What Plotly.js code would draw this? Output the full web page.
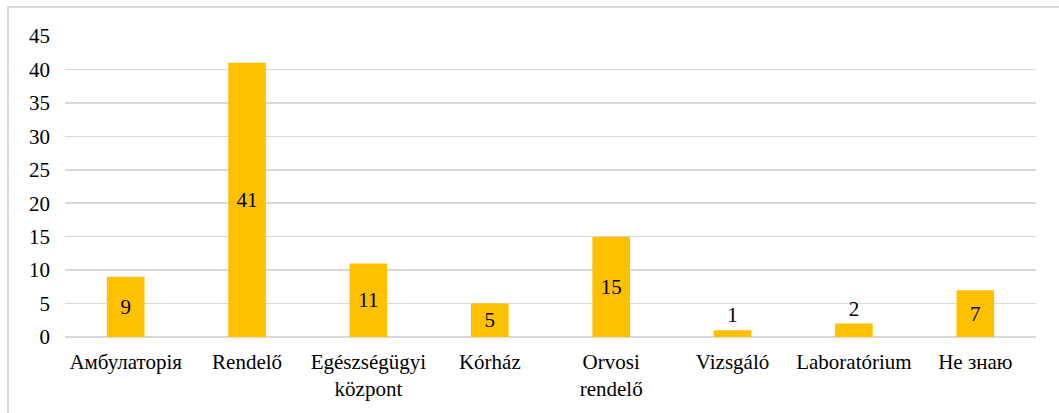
<!DOCTYPE html>
<html>
<head>
<meta charset="utf-8">
<script src="https://cdn.plot.ly/plotly-3.0.1.min.js"></script>
<style>
  html, body { margin: 0; padding: 0; background: #fff; overflow: hidden; }
  #chart { position: absolute; left: 0; top: 0; width: 1059px; height: 413px; }
  #frame { position: absolute; left: 7px; top: 6px; width: 1100px; height: 450px;
           border-left: 2px solid #d9d9d9; border-top: 2px solid #d9d9d9; pointer-events: none; }
</style>
</head>
<body>
<div id="chart"></div>
<div id="frame"></div>
<script>
const categories = ["Амбулаторія", "Rendelő", "Egészségügyi<br>központ", "Kórház", "Orvosi<br>rendelő", "Vizsgáló", "Laboratórium", "Не знаю"];
const values = [9, 41, 11, 5, 15, 1, 2, 7];
const yTicks = [0, 5, 10, 15, 20, 25, 30, 35, 40, 45];

const font = "'Liberation Serif', 'Times New Roman', 'DejaVu Serif', serif";

Plotly.newPlot("chart", [{
  type: "bar",
  x: categories,
  y: values,
  text: values.map(String),
  textposition: "auto",
  insidetextanchor: "middle",
  textangle: 0,
  constraintext: "none",
  cliponaxis: false,
  textfont: { family: font, size: 21, color: "#000" },
  insidetextfont: { family: font, size: 21, color: "#000" },
  outsidetextfont: { family: font, size: 21, color: "#000" },
  marker: { color: "#FFC000" },
  hoverinfo: "none"
}], {
  width: 1059,
  height: 413,
  margin: { l: 65, r: 23, t: 36, b: 76, pad: 0 },
  paper_bgcolor: "#fff",
  plot_bgcolor: "#fff",
  bargap: 0.69,
  showlegend: false,
  font: { family: font, size: 21, color: "#000" },
  xaxis: {
    type: "category",
    showgrid: false,
    showline: false,
    zeroline: false,
    ticks: "",
    ticklabelstandoff: 10,
    tickfont: { family: font, size: 21, color: "#000" },
    automargin: false
  },
  yaxis: {
    range: [0, 45],
    tickvals: yTicks,
    ticktext: yTicks.map(String),
    showgrid: true,
    gridcolor: "#d9d9d9",
    gridwidth: 1.5,
    zeroline: true,
    zerolinecolor: "#d9d9d9",
    zerolinewidth: 1.5,
    showline: false,
    ticks: "",
    ticklabelstandoff: 14,
    tickfont: { family: font, size: 21, color: "#000" },
    automargin: false
  }
}, { displayModeBar: false, staticPlot: true });
</script>
</body>
</html>
